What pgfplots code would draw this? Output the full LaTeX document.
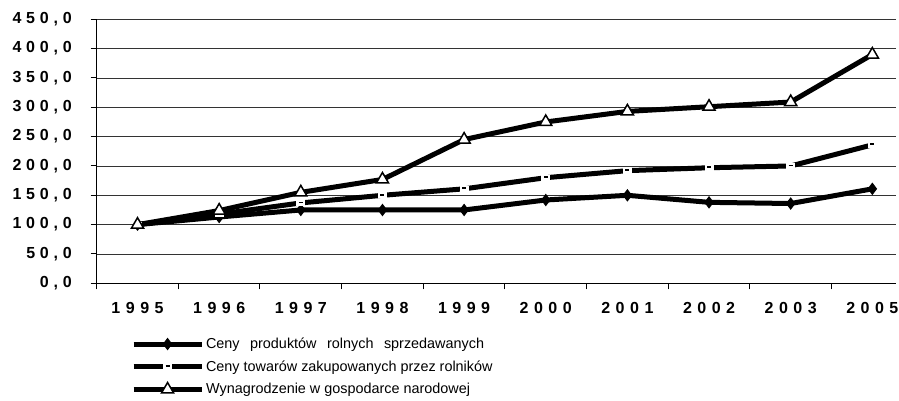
\documentclass[border=0pt]{standalone}
\usepackage{fontspec}
\setmainfont{Liberation Sans}
\usepackage{pgfplots}
\pgfplotsset{compat=1.18}
\pgfdeclareplotmark{dashbox}{%
  \pgfsetfillcolor{white}%
  \pgfpathrectangle{\pgfpoint{-4.5pt}{-3pt}}{\pgfpoint{9pt}{6pt}}%
  \pgfusepath{fill}%
  \pgfsetstrokecolor{black}%
  \pgfsetlinewidth{1.8pt}%
  \pgfsetbuttcap
  \pgfpathmoveto{\pgfpoint{-2pt}{0.5pt}}%
  \pgfpathlineto{\pgfpoint{2pt}{0.5pt}}%
  \pgfusepath{stroke}%
}
\newcommand{\s}{\kern5.5pt}
\newcommand{\y}{\kern4.8pt}
\newcommand{\w}{\hspace{10.5pt}}
\begin{document}
\fontsize{14.4}{17}\selectfont
\begin{tikzpicture}
\begin{axis}[
  at={(96.7pt,116.7pt)}, anchor=south west,
  scale only axis, width=799.3pt, height=264pt,
  xmin=-0.5, xmax=9.29, ymin=0, ymax=450,
  axis x line*=bottom, axis y line*=left,
  axis line style={black, line width=1pt},
  ytick={0,50,...,450},
  yticklabels={{0\y,\y0},{5\y0\y,\y0},{1\y0\y0\y,\y0},{1\y5\y0\y,\y0},{2\y0\y0\y,\y0},{2\y5\y0\y,\y0},{3\y0\y0\y,\y0},{3\y5\y0\y,\y0},{4\y0\y0\y,\y0},{4\y5\y0\y,\y0}},
  xtick={-0.5,0.5,...,8.5},
  xticklabels={},
  extra x ticks={0,1,...,9},
  extra x tick labels={1\s9\s9\s5,1\s9\s9\s6,1\s9\s9\s7,1\s9\s9\s8,1\s9\s9\s9,2\s0\s0\s0,2\s0\s0\s1,2\s0\s0\s2,2\s0\s0\s3,2\s0\s0\s5},
  extra x tick style={major tick length=0pt, grid=none},
  tick align=outside,
  major tick length=6pt,
  tick style={black, line width=1pt},
  ymajorgrids,
  grid style={black!80, line width=0.9pt},
  yticklabel style={font=\bfseries\fontsize{16}{18}\selectfont, inner sep=0pt, anchor=east, xshift=-24.7pt+6pt},
  xticklabel style={font=\bfseries\fontsize{16}{18}\selectfont, inner sep=0pt, anchor=north, yshift=-19pt},
  clip=false,
  legend style={at={(0.039,-0.19)}, anchor=north west, draw=none, fill=none,
    font=\fontsize{14.4}{17}\selectfont, row sep=6pt,
    legend cell align=left},
  legend image code/.code={\draw[mark repeat=2,mark phase=2] plot coordinates {(-9pt,0pt) (25pt,0pt) (59pt,0pt)};},
]
\addplot[black, line width=5pt, mark=diamond*, mark size=5.5pt, mark options={solid, line width=1pt, fill=black}]
  coordinates {(0,100) (1,113) (2,125) (3,125) (4,125) (5,142) (6,150) (7,138) (8,136) (9,161)};
\addlegendentry{Ceny\w produktów\w rolnych\w sprzedawanych}
\addplot[black, line width=5pt, mark=dashbox, mark options={solid}]
  coordinates {(0,100) (1,118) (2,137) (3,150) (4,161) (5,180) (6,192) (7,197) (8,200) (9,236)};
\addlegendentry{Ceny towarów zakupowanych przez rolników}
\addplot[black, line width=5pt, mark=triangle*, mark size=7pt, mark options={solid, line width=1.5pt, fill=white}]
  coordinates {(0,100) (1,124) (2,155) (3,177) (4,245) (5,275) (6,293) (7,301) (8,309) (9,390)};
\addlegendentry{Wynagrodzenie w gospodarce narodowej}
\end{axis}
\pgfresetboundingbox
\path[use as bounding box] (0,0) rectangle (899pt,400pt);
\end{tikzpicture}
\end{document}
